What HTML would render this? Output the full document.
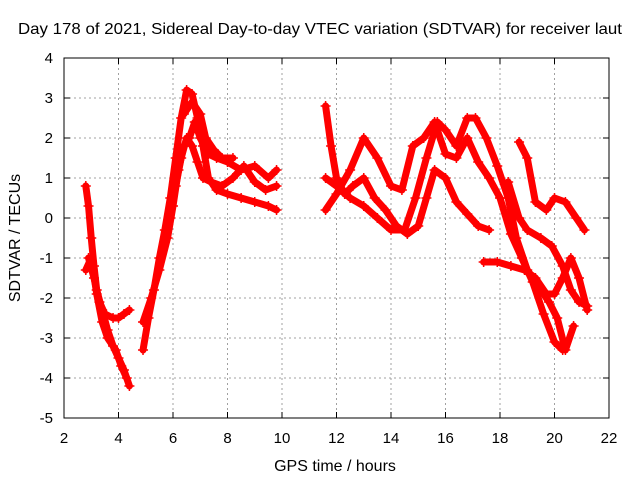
<!DOCTYPE html>
<html><head><meta charset="utf-8"><style>
body{margin:0;background:#fff}
svg text{font-family:"Liberation Sans",sans-serif;fill:#000}
</style></head><body>
<svg width="640" height="480">
<rect width="640" height="480" fill="#fff"/>
<g id="grid"></g>
<g id="axes"></g>
<g id="marks"></g>
<rect x="64" y="58" width="545" height="360" fill="none" stroke="#000" stroke-width="1"/>
<text x="320" y="34" font-size="16" text-anchor="middle" textLength="604" lengthAdjust="spacingAndGlyphs">Day 178 of 2021, Sidereal Day-to-day VTEC variation (SDTVAR) for receiver laut</text>
<text x="335" y="471" font-size="16" text-anchor="middle">GPS time / hours</text>
<text transform="translate(20,238) rotate(-90)" font-size="16" text-anchor="middle">SDTVAR / TECUs</text>
</svg>
<script>
const xTicks=[2,4,6,8,10,12,14,16,18,20,22];
const yTicks=[-5,-4,-3,-2,-1,0,1,2,3,4];
const s1=[[2.8,0.8],[2.9,0.3],[3.0,-0.5],[3.1,-1.2],[3.2,-1.8],[3.4,-2.3],[3.6,-2.8],[3.8,-3.2],[4.0,-3.5],[4.2,-3.8],[4.4,-4.2]];
const s1b=[[2.9,-1.0],[3.1,-1.5],[3.3,-2.1],[3.5,-2.4],[3.8,-2.5],[4.0,-2.5],[4.2,-2.4],[4.4,-2.3]];
const s1c=[[2.8,-1.3],[3.0,-1.0],[3.2,-1.9],[3.4,-2.6],[3.6,-3.0],[3.9,-3.3],[4.1,-3.7],[4.3,-4.0]];
const s2=[[4.9,-3.3],[5.1,-2.5],[5.3,-1.8],[5.5,-1.0],[5.7,-0.3],[5.9,0.5],[6.1,1.5],[6.3,2.5],[6.5,3.2],[6.7,3.1],[6.9,2.5],[7.1,1.8],[7.3,1.0],[7.6,0.7],[8.0,0.6],[8.5,0.5],[9.0,0.4],[9.5,0.3],[9.8,0.2]];
const s3=[[4.9,-2.6],[5.2,-2.0],[5.5,-1.3],[5.8,-0.5],[6.0,0.3],[6.2,1.2],[6.4,1.8],[6.6,2.0],[6.8,2.4],[7.0,2.0],[7.3,1.6],[7.6,1.5],[8.0,1.4],[8.5,1.2],[9.0,1.3],[9.5,1.0],[9.8,1.2]];
const s4=[[5.9,0.0],[6.1,0.8],[6.3,1.5],[6.5,2.0],[6.7,1.8],[6.9,1.4],[7.1,1.0],[7.4,0.9],[7.8,0.8],[8.2,1.0],[8.6,1.3],[9.0,0.9],[9.4,0.7],[9.8,0.8]];
const s4b=[[6.4,2.6],[6.7,2.9],[7.0,2.6],[7.2,2.0],[7.5,1.7],[7.8,1.5],[8.2,1.5]];
const t1=[[11.6,2.8],[11.8,1.8],[12.0,1.0],[12.3,0.6],[12.6,0.8],[13.0,1.0],[13.4,0.5],[13.8,0.2],[14.2,-0.2],[14.6,-0.4],[15.0,-0.2],[15.3,0.5],[15.6,1.2],[16.0,1.0],[16.4,0.4],[16.8,0.1],[17.2,-0.2],[17.6,-0.3]];
const t2=[[11.6,1.0],[12.0,0.8],[12.5,0.5],[13.0,0.3],[13.5,0.0],[14.0,-0.3],[14.5,-0.3],[14.9,0.5],[15.3,1.5],[15.7,2.4],[16.0,2.2],[16.4,1.8],[16.8,2.5],[17.1,2.5],[17.5,2.0],[17.9,1.3],[18.3,0.5],[18.6,-0.5],[19.0,-1.3],[19.5,-1.8],[19.8,-2.1],[20.1,-2.5],[20.4,-3.3],[20.7,-2.7]];
const t3=[[11.6,0.2],[12.0,0.6],[12.5,1.2],[13.0,2.0],[13.5,1.5],[14.0,0.8],[14.4,0.7],[14.8,1.8],[15.2,2.0],[15.6,2.4],[16.0,1.6],[16.4,1.5],[16.8,2.0],[17.2,1.4],[17.6,1.0],[18.0,0.5],[18.4,-0.4],[18.8,-1.0],[19.2,-1.6],[19.6,-2.4],[20.0,-3.1],[20.3,-3.3]];
const t4=[[17.4,-1.1],[17.9,-1.1],[18.4,-1.2],[18.9,-1.3],[19.3,-1.5],[19.7,-1.9],[20.0,-1.9],[20.3,-1.5],[20.6,-1.0],[20.9,-1.5],[21.2,-2.3]];
const t5=[[18.7,1.9],[19.0,1.5],[19.3,0.4],[19.7,0.2],[20.0,0.5],[20.4,0.4],[20.8,0.0],[21.1,-0.3]];
const t6=[[18.3,0.9],[18.7,0.0],[19.0,-0.3],[19.5,-0.5],[19.9,-0.7],[20.3,-1.2],[20.6,-1.8],[20.9,-2.1],[21.2,-2.2]];
const allSeries=[s1,s1b,s1c,s2,s3,s4,s4b,t1,t2,t3,t4,t5,t6];
const NS="http://www.w3.org/2000/svg";
const X=v=>64+(v-2)*545/20, Y=v=>58+(4-v)*40;
const grid=document.getElementById('grid'),axes=document.getElementById('axes'),marks=document.getElementById('marks');
function mk(tag,at,p){const e=document.createElementNS(NS,tag);for(const k in at)e.setAttribute(k,at[k]);p.appendChild(e);return e;}
xTicks.forEach(t=>{const x=X(t);
 if(t>2&&t<22){const g=mk('line',{x1:x,x2:x,y1:58,y2:418,stroke:'#a0a0a0','stroke-dasharray':'2,3'},grid);
 
 }
 mk('line',{x1:x,x2:x,y1:418,y2:412,stroke:'#000'},axes);mk('line',{x1:x,x2:x,y1:58,y2:64,stroke:'#000'},axes);
 const l=mk('text',{x:x,y:443,'font-size':15,'text-anchor':'middle'},axes);l.textContent=t;
 
 });
yTicks.forEach(t=>{const y=Y(t);
 if(t>-5&&t<4){const g=mk('line',{x1:64,x2:609,y1:y,y2:y,stroke:'#a0a0a0','stroke-dasharray':'2,3'},grid);
 
 }
 mk('line',{x1:64,x2:70,y1:y,y2:y,stroke:'#000'},axes);mk('line',{x1:609,x2:603,y1:y,y2:y,stroke:'#000'},axes);
 const l=mk('text',{x:53,y:y+5,'font-size':15,'text-anchor':'end'},axes);l.textContent=t;
 
 });
allSeries.forEach((s,i)=>{
 const pl=mk('polyline',{points:s.map(p=>X(p[0])+','+Y(p[1])).join(' '),fill:'none',stroke:'#f00','stroke-width':7,'stroke-linejoin':'round','stroke-linecap':'round'},marks);
 
 
 s.forEach(p=>{const x=X(p[0]),y=Y(p[1]);
  const m=mk('path',{d:`M${x-5},${y}H${x+5}M${x},${y-5}V${y+5}`,stroke:'#f00','stroke-width':1.5},marks);
  
  });
});
</script>
</body></html>
